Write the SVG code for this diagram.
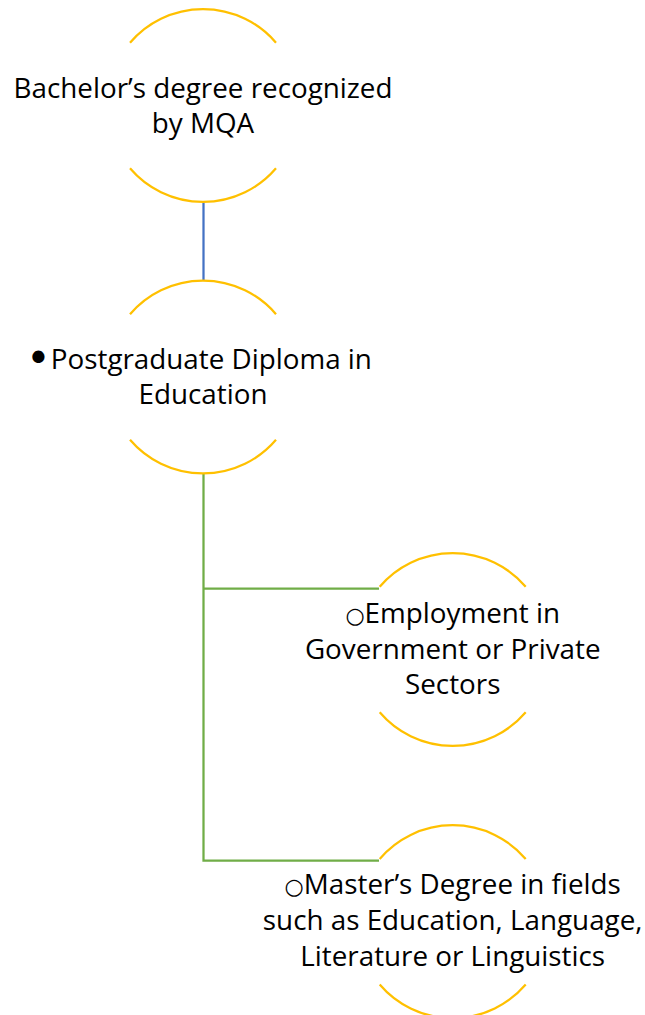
<svg xmlns="http://www.w3.org/2000/svg" width="645" height="1015" viewBox="0 0 645 1015">
<style>
.arc{fill:none;stroke:#FFC000;stroke-width:2.25}
.blue{fill:none;stroke:#4472C4;stroke-width:2.25}
.green{fill:none;stroke:#70AD47;stroke-width:2.25}
.t{font-family:"Open Sans","Liberation Sans",sans-serif;font-size:27.8px;fill:#000;text-anchor:middle;font-variant-ligatures:none}
.b{font-family:"DejaVu Sans",sans-serif;font-size:22px}
.d{font-family:"DejaVu Sans",sans-serif;font-size:42px}
</style>
<rect width="645" height="1015" fill="#fff"/>
<g id="connectors">
<path class="blue" d="M203.5,201.5 V281"/>
<path class="green" d="M203.5,473 V860.7 H379"/>
<path class="green" d="M203.5,588.7 H379"/>
</g>
<g id="node1">
<path class="arc" d="M130,42.7 A96,96 0 0 1 276,42.7"/>
<path class="arc" d="M130,168.3 A96,96 0 0 0 276,168.3"/>
<text class="t" x="203" y="98.3">Bachelor’s degree recognized</text>
<text class="t" x="203" y="132.5">by MQA</text>
</g>
<g id="node2">
<path class="arc" d="M130,314.2 A96,96 0 0 1 276,314.2"/>
<path class="arc" d="M130,439.8 A96,96 0 0 0 276,439.8"/>
<text class="t" x="26" y="369.3" style="text-anchor:start"><tspan class="d" baseline-shift="-4.3">•</tspan>Postgraduate Diploma in</text>
<text class="t" x="203" y="404">Education</text>
</g>
<g id="node3">
<path class="arc" d="M379.7,586.7 A96,96 0 0 1 525.7,586.7"/>
<path class="arc" d="M379.7,712.3 A96,96 0 0 0 525.7,712.3"/>
<text class="t" x="452.7" y="622.7"><tspan class="b">○</tspan>Employment in</text>
<text class="t" x="452.7" y="659">Government or Private</text>
<text class="t" x="452.7" y="694">Sectors</text>
</g>
<g id="node4">
<path class="arc" d="M379.7,858.9 A96,96 0 0 1 525.7,858.9"/>
<path class="arc" d="M379.7,984.5 A96,96 0 0 0 525.7,984.5"/>
<text class="t" x="452.7" y="894.3"><tspan class="b">○</tspan>Master’s Degree in fields</text>
<text class="t" x="452.7" y="930">such as Education, Language,</text>
<text class="t" x="452.7" y="965.7">Literature or Linguistics</text>
</g>
</svg>
